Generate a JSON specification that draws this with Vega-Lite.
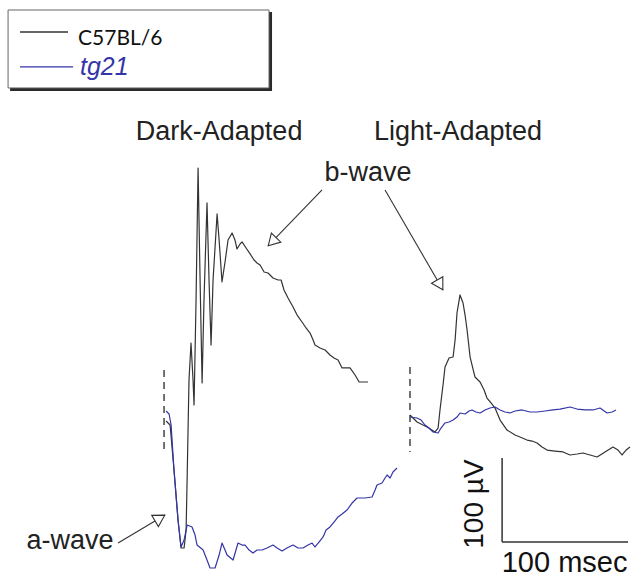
{
  "$schema": "https://vega.github.io/schema/vega-lite/v6.json",
  "width": 631,
  "height": 580,
  "padding": 0,
  "autosize": {"type": "none"},
  "background": "white",
  "config": {"view": {"stroke": null}},
  "datasets": {
    "traces": [
      {"strain":"C57BL/6","cond":"dark","t":1.6,"v":-7.1},{"strain":"C57BL/6","cond":"dark","t":4.8,"v":-11.9},{"strain":"C57BL/6","cond":"dark","t":7.9,"v":-65.5},{"strain":"C57BL/6","cond":"dark","t":11.1,"v":-125.0},{"strain":"C57BL/6","cond":"dark","t":13.5,"v":-158.3},{"strain":"C57BL/6","cond":"dark","t":15.9,"v":-158.3},{"strain":"C57BL/6","cond":"dark","t":17.5,"v":-136.9},{"strain":"C57BL/6","cond":"dark","t":18.3,"v":-77.4},{"strain":"C57BL/6","cond":"dark","t":19.8,"v":41.7},{"strain":"C57BL/6","cond":"dark","t":21.4,"v":85.7},{"strain":"C57BL/6","cond":"dark","t":23.0,"v":41.7},{"strain":"C57BL/6","cond":"dark","t":23.8,"v":11.9},{"strain":"C57BL/6","cond":"dark","t":25.4,"v":136.9},{"strain":"C57BL/6","cond":"dark","t":27.0,"v":294.0},{"strain":"C57BL/6","cond":"dark","t":28.6,"v":160.7},{"strain":"C57BL/6","cond":"dark","t":30.2,"v":38.1},{"strain":"C57BL/6","cond":"dark","t":31.7,"v":136.9},{"strain":"C57BL/6","cond":"dark","t":34.1,"v":252.4},{"strain":"C57BL/6","cond":"dark","t":35.7,"v":160.7},{"strain":"C57BL/6","cond":"dark","t":37.3,"v":83.3},{"strain":"C57BL/6","cond":"dark","t":38.9,"v":160.7},{"strain":"C57BL/6","cond":"dark","t":42.1,"v":239.3},{"strain":"C57BL/6","cond":"dark","t":43.7,"v":208.3},{"strain":"C57BL/6","cond":"dark","t":46.0,"v":158.3},{"strain":"C57BL/6","cond":"dark","t":48.4,"v":182.1},{"strain":"C57BL/6","cond":"dark","t":50.8,"v":208.3},{"strain":"C57BL/6","cond":"dark","t":54.0,"v":216.7},{"strain":"C57BL/6","cond":"dark","t":56.3,"v":208.3},{"strain":"C57BL/6","cond":"dark","t":57.9,"v":197.6},{"strain":"C57BL/6","cond":"dark","t":60.3,"v":203.6},{"strain":"C57BL/6","cond":"dark","t":61.9,"v":206.0},{"strain":"C57BL/6","cond":"dark","t":65.1,"v":198.8},{"strain":"C57BL/6","cond":"dark","t":68.3,"v":191.7},{"strain":"C57BL/6","cond":"dark","t":71.4,"v":184.5},{"strain":"C57BL/6","cond":"dark","t":73.8,"v":181.0},{"strain":"C57BL/6","cond":"dark","t":76.2,"v":178.6},{"strain":"C57BL/6","cond":"dark","t":79.4,"v":170.2},{"strain":"C57BL/6","cond":"dark","t":82.5,"v":169.0},{"strain":"C57BL/6","cond":"dark","t":86.5,"v":163.1},{"strain":"C57BL/6","cond":"dark","t":90.5,"v":160.7},{"strain":"C57BL/6","cond":"dark","t":92.9,"v":160.7},{"strain":"C57BL/6","cond":"dark","t":95.2,"v":148.8},{"strain":"C57BL/6","cond":"dark","t":98.4,"v":139.3},{"strain":"C57BL/6","cond":"dark","t":102.4,"v":128.6},{"strain":"C57BL/6","cond":"dark","t":105.6,"v":119.0},{"strain":"C57BL/6","cond":"dark","t":109.5,"v":110.7},{"strain":"C57BL/6","cond":"dark","t":112.7,"v":103.6},{"strain":"C57BL/6","cond":"dark","t":115.9,"v":97.6},{"strain":"C57BL/6","cond":"dark","t":118.3,"v":89.3},{"strain":"C57BL/6","cond":"dark","t":119.8,"v":83.3},{"strain":"C57BL/6","cond":"dark","t":123.8,"v":79.8},{"strain":"C57BL/6","cond":"dark","t":127.8,"v":77.4},{"strain":"C57BL/6","cond":"dark","t":131.7,"v":71.4},{"strain":"C57BL/6","cond":"dark","t":134.9,"v":67.9},{"strain":"C57BL/6","cond":"dark","t":138.1,"v":65.5},{"strain":"C57BL/6","cond":"dark","t":141.3,"v":56.0},{"strain":"C57BL/6","cond":"dark","t":144.4,"v":56.0},{"strain":"C57BL/6","cond":"dark","t":147.6,"v":56.0},{"strain":"C57BL/6","cond":"dark","t":151.6,"v":47.6},{"strain":"C57BL/6","cond":"dark","t":154.8,"v":39.3},{"strain":"C57BL/6","cond":"dark","t":161.9,"v":39.3},
      {"strain":"tg21","cond":"dark","t":1.6,"v":4.8},{"strain":"tg21","cond":"dark","t":4.0,"v":1.2},{"strain":"tg21","cond":"dark","t":5.6,"v":-11.9},{"strain":"tg21","cond":"dark","t":7.9,"v":-65.5},{"strain":"tg21","cond":"dark","t":11.1,"v":-125.0},{"strain":"tg21","cond":"dark","t":13.5,"v":-157.1},{"strain":"tg21","cond":"dark","t":15.9,"v":-148.8},{"strain":"tg21","cond":"dark","t":18.3,"v":-131.0},{"strain":"tg21","cond":"dark","t":22.2,"v":-133.3},{"strain":"tg21","cond":"dark","t":24.6,"v":-142.9},{"strain":"tg21","cond":"dark","t":26.2,"v":-154.8},{"strain":"tg21","cond":"dark","t":31.0,"v":-160.7},{"strain":"tg21","cond":"dark","t":34.1,"v":-172.6},{"strain":"tg21","cond":"dark","t":36.5,"v":-182.1},{"strain":"tg21","cond":"dark","t":40.5,"v":-182.1},{"strain":"tg21","cond":"dark","t":43.7,"v":-166.7},{"strain":"tg21","cond":"dark","t":46.0,"v":-152.4},{"strain":"tg21","cond":"dark","t":48.4,"v":-160.7},{"strain":"tg21","cond":"dark","t":50.0,"v":-166.7},{"strain":"tg21","cond":"dark","t":54.8,"v":-172.6},{"strain":"tg21","cond":"dark","t":57.1,"v":-160.7},{"strain":"tg21","cond":"dark","t":58.7,"v":-152.4},{"strain":"tg21","cond":"dark","t":61.9,"v":-154.8},{"strain":"tg21","cond":"dark","t":64.3,"v":-154.8},{"strain":"tg21","cond":"dark","t":67.5,"v":-160.7},{"strain":"tg21","cond":"dark","t":70.6,"v":-164.3},{"strain":"tg21","cond":"dark","t":73.8,"v":-160.7},{"strain":"tg21","cond":"dark","t":77.8,"v":-160.7},{"strain":"tg21","cond":"dark","t":81.7,"v":-158.3},{"strain":"tg21","cond":"dark","t":86.5,"v":-154.8},{"strain":"tg21","cond":"dark","t":89.7,"v":-158.3},{"strain":"tg21","cond":"dark","t":93.7,"v":-161.9},{"strain":"tg21","cond":"dark","t":97.6,"v":-158.3},{"strain":"tg21","cond":"dark","t":102.4,"v":-154.8},{"strain":"tg21","cond":"dark","t":106.3,"v":-158.3},{"strain":"tg21","cond":"dark","t":110.3,"v":-158.3},{"strain":"tg21","cond":"dark","t":114.3,"v":-154.8},{"strain":"tg21","cond":"dark","t":117.5,"v":-152.4},{"strain":"tg21","cond":"dark","t":119.8,"v":-157.1},{"strain":"tg21","cond":"dark","t":123.0,"v":-151.2},{"strain":"tg21","cond":"dark","t":126.2,"v":-145.2},{"strain":"tg21","cond":"dark","t":128.6,"v":-136.9},{"strain":"tg21","cond":"dark","t":131.7,"v":-133.3},{"strain":"tg21","cond":"dark","t":134.9,"v":-127.4},{"strain":"tg21","cond":"dark","t":138.1,"v":-121.4},{"strain":"tg21","cond":"dark","t":141.3,"v":-117.9},{"strain":"tg21","cond":"dark","t":145.2,"v":-113.1},{"strain":"tg21","cond":"dark","t":149.2,"v":-104.8},{"strain":"tg21","cond":"dark","t":153.2,"v":-98.8},{"strain":"tg21","cond":"dark","t":159.5,"v":-98.8},{"strain":"tg21","cond":"dark","t":165.1,"v":-97.6},{"strain":"tg21","cond":"dark","t":167.5,"v":-89.3},{"strain":"tg21","cond":"dark","t":169.0,"v":-83.3},{"strain":"tg21","cond":"dark","t":173.0,"v":-81.0},{"strain":"tg21","cond":"dark","t":175.4,"v":-75.0},{"strain":"tg21","cond":"dark","t":177.0,"v":-71.4},{"strain":"tg21","cond":"dark","t":179.4,"v":-75.0},{"strain":"tg21","cond":"dark","t":181.7,"v":-67.9},{"strain":"tg21","cond":"dark","t":184.9,"v":-63.1},
      {"strain":"C57BL/6","cond":"light","t":195.2,"v":0},{"strain":"C57BL/6","cond":"light","t":200.8,"v":-8.3},{"strain":"C57BL/6","cond":"light","t":208.7,"v":-14.3},{"strain":"C57BL/6","cond":"light","t":215.1,"v":-20.2},{"strain":"C57BL/6","cond":"light","t":217.5,"v":-15.5},{"strain":"C57BL/6","cond":"light","t":219.0,"v":6.0},{"strain":"C57BL/6","cond":"light","t":221.4,"v":35.7},{"strain":"C57BL/6","cond":"light","t":223.0,"v":57.1},{"strain":"C57BL/6","cond":"light","t":226.2,"v":67.9},{"strain":"C57BL/6","cond":"light","t":229.4,"v":69.0},{"strain":"C57BL/6","cond":"light","t":231.0,"v":89.3},{"strain":"C57BL/6","cond":"light","t":232.5,"v":121.4},{"strain":"C57BL/6","cond":"light","t":234.9,"v":142.9},{"strain":"C57BL/6","cond":"light","t":237.3,"v":133.3},{"strain":"C57BL/6","cond":"light","t":238.9,"v":119.0},{"strain":"C57BL/6","cond":"light","t":240.5,"v":101.2},{"strain":"C57BL/6","cond":"light","t":242.9,"v":69.0},{"strain":"C57BL/6","cond":"light","t":246.8,"v":45.2},{"strain":"C57BL/6","cond":"light","t":250.8,"v":39.3},{"strain":"C57BL/6","cond":"light","t":254.0,"v":29.8},{"strain":"C57BL/6","cond":"light","t":256.3,"v":20.2},{"strain":"C57BL/6","cond":"light","t":259.5,"v":14.3},{"strain":"C57BL/6","cond":"light","t":262.7,"v":8.3},{"strain":"C57BL/6","cond":"light","t":266.7,"v":-6.0},{"strain":"C57BL/6","cond":"light","t":272.2,"v":-17.9},{"strain":"C57BL/6","cond":"light","t":278.6,"v":-23.8},{"strain":"C57BL/6","cond":"light","t":282.5,"v":-26.2},{"strain":"C57BL/6","cond":"light","t":288.1,"v":-29.8},{"strain":"C57BL/6","cond":"light","t":292.1,"v":-31.0},{"strain":"C57BL/6","cond":"light","t":296.0,"v":-33.3},{"strain":"C57BL/6","cond":"light","t":300.0,"v":-38.1},{"strain":"C57BL/6","cond":"light","t":304.0,"v":-41.7},{"strain":"C57BL/6","cond":"light","t":310.3,"v":-42.9},{"strain":"C57BL/6","cond":"light","t":316.7,"v":-44.0},{"strain":"C57BL/6","cond":"light","t":322.2,"v":-47.6},{"strain":"C57BL/6","cond":"light","t":327.8,"v":-46.4},{"strain":"C57BL/6","cond":"light","t":332.5,"v":-45.2},{"strain":"C57BL/6","cond":"light","t":338.1,"v":-47.6},{"strain":"C57BL/6","cond":"light","t":343.7,"v":-50.0},{"strain":"C57BL/6","cond":"light","t":350.0,"v":-44.0},{"strain":"C57BL/6","cond":"light","t":356.3,"v":-38.1},{"strain":"C57BL/6","cond":"light","t":360.3,"v":-41.7},{"strain":"C57BL/6","cond":"light","t":363.5,"v":-47.6},{"strain":"C57BL/6","cond":"light","t":366.7,"v":-41.7},{"strain":"C57BL/6","cond":"light","t":369.8,"v":-38.1},
      {"strain":"tg21","cond":"light","t":195.2,"v":-2.4},{"strain":"tg21","cond":"light","t":200.8,"v":-3.6},{"strain":"tg21","cond":"light","t":204.0,"v":-6.0},{"strain":"tg21","cond":"light","t":207.1,"v":-11.9},{"strain":"tg21","cond":"light","t":210.3,"v":-15.5},{"strain":"tg21","cond":"light","t":213.5,"v":-20.2},{"strain":"tg21","cond":"light","t":217.5,"v":-21.4},{"strain":"tg21","cond":"light","t":219.8,"v":-15.5},{"strain":"tg21","cond":"light","t":223.0,"v":-9.5},{"strain":"tg21","cond":"light","t":226.2,"v":-8.3},{"strain":"tg21","cond":"light","t":229.4,"v":-6.0},{"strain":"tg21","cond":"light","t":232.5,"v":-2.4},{"strain":"tg21","cond":"light","t":234.9,"v":2.4},{"strain":"tg21","cond":"light","t":238.9,"v":1.2},{"strain":"tg21","cond":"light","t":242.1,"v":4.8},{"strain":"tg21","cond":"light","t":244.4,"v":6.0},{"strain":"tg21","cond":"light","t":247.6,"v":3.6},{"strain":"tg21","cond":"light","t":250.8,"v":2.4},{"strain":"tg21","cond":"light","t":254.8,"v":6.0},{"strain":"tg21","cond":"light","t":258.7,"v":8.3},{"strain":"tg21","cond":"light","t":262.7,"v":9.5},{"strain":"tg21","cond":"light","t":266.7,"v":6.0},{"strain":"tg21","cond":"light","t":270.6,"v":3.6},{"strain":"tg21","cond":"light","t":274.6,"v":2.4},{"strain":"tg21","cond":"light","t":278.6,"v":4.8},{"strain":"tg21","cond":"light","t":284.1,"v":6.0},{"strain":"tg21","cond":"light","t":290.5,"v":3.6},{"strain":"tg21","cond":"light","t":296.0,"v":3.6},{"strain":"tg21","cond":"light","t":302.4,"v":4.8},{"strain":"tg21","cond":"light","t":308.7,"v":6.0},{"strain":"tg21","cond":"light","t":314.3,"v":7.1},{"strain":"tg21","cond":"light","t":322.2,"v":9.5},{"strain":"tg21","cond":"light","t":327.8,"v":7.1},{"strain":"tg21","cond":"light","t":334.1,"v":6.0},{"strain":"tg21","cond":"light","t":340.5,"v":6.0},{"strain":"tg21","cond":"light","t":346.0,"v":8.3},{"strain":"tg21","cond":"light","t":351.6,"v":2.4},{"strain":"tg21","cond":"light","t":355.6,"v":3.6},{"strain":"tg21","cond":"light","t":358.7,"v":6.0}
    ],
    "stimulus": [
      {"flash": "dark", "t": 0, "v": 53.6, "v2": -44.0},
      {"flash": "light", "t": 195.2, "v": 57.1, "v2": -44.0}
    ],
    "scalebar": [
      {"bar": "100 µV", "t": 268.3, "v": -51.2, "t2": 268.3, "v2": -151.2},
      {"bar": "100 msec", "t": 268.3, "v": -151.2, "t2": 368.3, "v2": -151.2}
    ],
    "arrows": [
      {"label": "b-wave", "t": 125.4, "v": 267.9, "t2": 82.5, "v2": 201.2},
      {"label": "b-wave", "t": 175.4, "v": 267.9, "t2": 221.4, "v2": 148.8},
      {"label": "a-wave", "t": -36.5, "v": -152.4, "t2": 0.8, "v2": -119.0}
    ],
    "labels": [
      {"label": "Dark-Adapted", "t": 43.7, "v": 327.4},
      {"label": "Light-Adapted", "t": 233.3, "v": 327.4},
      {"label": "b-wave", "t": 161.9, "v": 278.6},
      {"label": "a-wave", "t": -74.6, "v": -159.5}
    ],
    "scaletext": [
      {"label": "100 msec", "t": 317.9, "v": -186.9},
      {"label": "100 µV", "t": 253.2, "v": -106.0}
    ],
    "legendshadow": [{"t": -122.2, "t2": 85.7, "v": 479.8, "v2": 385.7}],
    "legendbox": [{"t": -123.8, "t2": 83.3, "v": 482.1, "v2": 389.3}],
    "legendlines": [
      {"strain": "C57BL/6", "t": -114.3, "t2": -76.2, "v": 455.9},
      {"strain": "tg21", "t": -114.3, "t2": -72.2, "v": 414.3}
    ],
    "legendlabels": [
      {"strain": "C57BL/6", "t": -68.3, "v": 440.5},
      {"strain": "tg21", "t": -66.7, "v": 404.8}
    ]
  },
  "encoding": {
    "x": {"field": "t", "type": "quantitative", "axis": null, "scale": {"domain": [-130.2, 370.6], "nice": false, "zero": false}},
    "y": {"field": "v", "type": "quantitative", "axis": null, "scale": {"domain": [-196.4, 494.0], "nice": false, "zero": false}}
  },
  "layer": [
    {
      "data": {"name": "legendshadow"},
      "mark": {"type": "rect", "fill": "#2a2a2a"},
      "encoding": {"x2": {"field": "t2"}, "y2": {"field": "v2"}}
    },
    {
      "data": {"name": "legendbox"},
      "mark": {"type": "rect", "fill": "white", "stroke": "#666666", "strokeWidth": 1},
      "encoding": {"x2": {"field": "t2"}, "y2": {"field": "v2"}}
    },
    {
      "data": {"name": "legendlines"},
      "mark": {"type": "rule", "strokeWidth": 1.3},
      "encoding": {
        "x2": {"field": "t2"},
        "color": {"field": "strain", "type": "nominal", "legend": null, "scale": {"domain": ["C57BL/6", "tg21"], "range": ["#333333", "#3535a8"]}}
      }
    },
    {
      "data": {"name": "legendlabels"},
      "transform": [{"filter": "datum.strain === 'C57BL/6'"}],
      "mark": {"type": "text", "align": "left", "baseline": "alphabetic", "font": "Lato", "fontSize": 21},
      "encoding": {
        "text": {"field": "strain"},
        "color": {"value": "#111111"}
      }
    },
    {
      "data": {"name": "legendlabels"},
      "transform": [{"filter": "datum.strain === 'tg21'"}],
      "mark": {"type": "text", "align": "left", "baseline": "alphabetic", "font": "Liberation Sans", "fontSize": 25, "fontStyle": "italic"},
      "encoding": {
        "text": {"field": "strain"},
        "color": {"field": "strain", "type": "nominal", "legend": null}
      }
    },
    {
      "data": {"name": "stimulus"},
      "mark": {"type": "rule", "color": "#444444", "strokeWidth": 1.5, "strokeDash": [7, 5]},
      "encoding": {"y2": {"field": "v2"}}
    },
    {
      "data": {"name": "traces"},
      "mark": {"type": "line", "strokeWidth": 1.2, "strokeJoin": "round"},
      "encoding": {
        "color": {"field": "strain", "type": "nominal", "legend": null},
        "detail": {"field": "cond"}
      }
    },
    {
      "data": {"name": "scalebar"},
      "mark": {"type": "rule", "color": "#333333", "strokeWidth": 1.5},
      "encoding": {"x2": {"field": "t2"}, "y2": {"field": "v2"}}
    },
    {
      "data": {"name": "arrows"},
      "mark": {"type": "rule", "color": "#333333", "strokeWidth": 1.1},
      "encoding": {"x2": {"field": "t2"}, "y2": {"field": "v2"}}
    },
    {
      "data": {"name": "arrows"},
      "transform": [
        {"calculate": "(datum.t2 - datum.t) * 1.26", "as": "dxp"},
        {"calculate": "-(datum.v2 - datum.v) * 0.84", "as": "dyp"},
        {"calculate": "sqrt(datum.dxp * datum.dxp + datum.dyp * datum.dyp)", "as": "len"},
        {"calculate": "atan2(datum.dxp, -datum.dyp) * 180 / PI", "as": "ang"},
        {"calculate": "datum.t2 - 6 * datum.dxp / datum.len / 1.26", "as": "t"},
        {"calculate": "datum.v2 + 6 * datum.dyp / datum.len / 0.84", "as": "v"}
      ],
      "mark": {"type": "point", "shape": "triangle-up", "filled": true, "fill": "white", "stroke": "#333333", "strokeWidth": 1.1, "size": 170, "opacity": 1},
      "encoding": {"angle": {"field": "ang", "type": "quantitative", "scale": null}}
    },
    {
      "data": {"name": "labels"},
      "mark": {"type": "text", "align": "center", "baseline": "alphabetic", "font": "Liberation Sans", "fontSize": 27, "color": "#222222"},
      "encoding": {"text": {"field": "label"}}
    },
    {
      "data": {"name": "scaletext"},
      "transform": [{"filter": "datum.label === '100 msec'"}],
      "mark": {"type": "text", "align": "center", "baseline": "alphabetic", "font": "Liberation Sans", "fontSize": 29, "color": "#111111"},
      "encoding": {"text": {"field": "label"}}
    },
    {
      "data": {"name": "scaletext"},
      "transform": [{"filter": "datum.label === '100 µV'"}],
      "mark": {"type": "text", "align": "center", "baseline": "alphabetic", "angle": 270, "font": "Liberation Sans", "fontSize": 28, "color": "#111111"},
      "encoding": {"text": {"field": "label"}}
    }
  ]
}
